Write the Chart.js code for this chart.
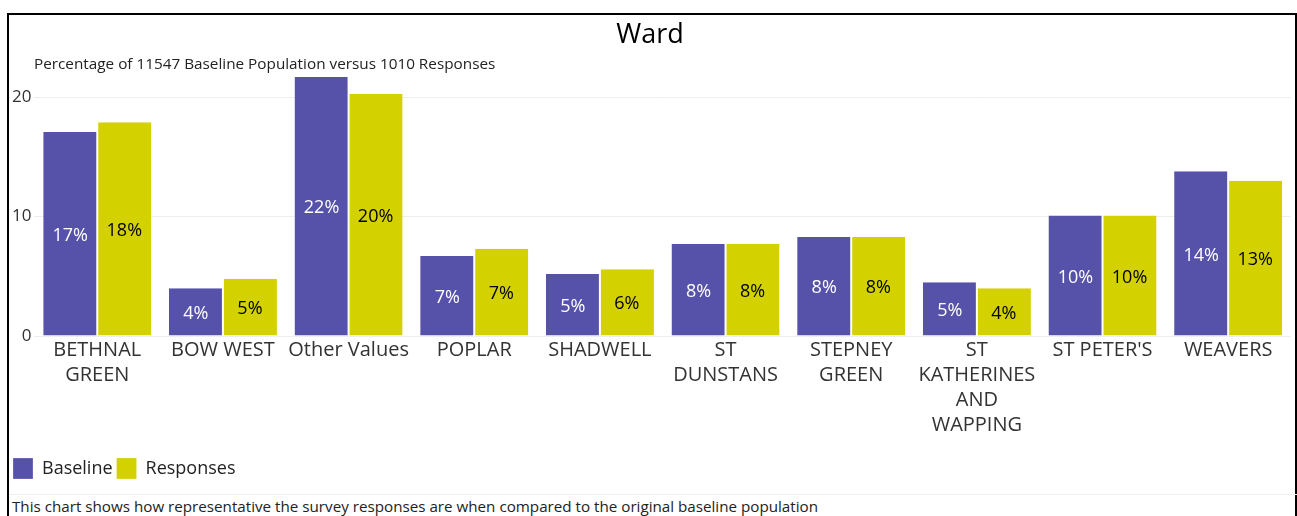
<!DOCTYPE html>
<html>
<head>
<meta charset="utf-8">
<script src="https://cdn.jsdelivr.net/npm/chart.js@4"></script>
<style>
  body { margin: 0; background: #fff; font-family: 'Open Sans', sans-serif; }
  #panel { position: absolute; left: 7px; top: 13px; width: 1286px; height: 520px; border: 2px solid #000; }
  #chartBox { position: absolute; left: 0; top: 0; width: 1286px; height: 474px; }
  #subtitle { position: absolute; left: 25px; top: 38px; font-size: 15.3px; color: #222; }
  #footer { position: absolute; left: 0; top: 479px; width: 1286px; border-top: 1px solid #eee; font-size: 15.2px; color: #222; padding: 1px 0 0 3px; }
</style>
</head>
<body>
<div id="panel">
  <div id="chartBox"><canvas id="wardChart"></canvas></div>
  <div id="subtitle">Percentage of 11547 Baseline Population versus 1010 Responses</div>
  <div id="footer">This chart shows how representative the survey responses are when compared to the original baseline population</div>
</div>
<script>
  'use strict';

  var wards = [
    ['BETHNAL', 'GREEN'], 'BOW WEST', 'Other Values', 'POPLAR', 'SHADWELL',
    ['ST', 'DUNSTANS'], ['STEPNEY', 'GREEN'], ['ST', 'KATHERINES', 'AND', 'WAPPING'], "ST PETER'S", 'WEAVERS'
  ];
  var baseline = [17.1, 4.0, 21.7, 6.7, 5.2, 7.7, 8.3, 4.5, 10.1, 13.8];
  var responses = [17.9, 4.8, 20.3, 7.3, 5.6, 7.7, 8.3, 4.0, 10.1, 13.0];
  var yTicks = [0, 10, 20];

  // percentage label in the middle of every bar
  var barLabels = {
    id: 'barLabels',
    afterDatasetsDraw: function (chart) {
      var ctx = chart.ctx;
      ctx.save();
      ctx.font = '18px "Open Sans"';
      ctx.textAlign = 'center';
      ctx.textBaseline = 'middle';
      chart.data.datasets.forEach(function (ds, i) {
        var meta = chart.getDatasetMeta(i);
        ctx.fillStyle = i === 0 ? '#ffffff' : '#000000';
        meta.data.forEach(function (bar, j) {
          var text = Math.round(ds.data[j]) + '%';
          ctx.fillText(text, bar.x, (bar.y + bar.base) / 2 + 2);
        });
      });
      ctx.restore();
    }
  };

  var ctx = document.getElementById('wardChart').getContext('2d');
  var wardChart = new Chart(ctx, {
    type: 'bar',
    data: {
      labels: wards,
      datasets: [{
        label: 'Baseline',
        data: baseline,
        backgroundColor: '#5752a9',
        borderColor: '#ffffff',
        borderWidth: { left: 0, right: 1, top: 0, bottom: 0 },
        categoryPercentage: 0.86,
        barPercentage: 1.0
      }, {
        label: 'Responses',
        data: responses,
        backgroundColor: '#d4d100',
        borderColor: '#ffffff',
        borderWidth: { left: 1, right: 0, top: 0, bottom: 0 },
        categoryPercentage: 0.86,
        barPercentage: 1.0
      }]
    },
    options: {
      responsive: true,
      maintainAspectRatio: false,
      animation: false,
      layout: { padding: { left: 0, right: 4, top: 0, bottom: 0 } },
      plugins: {
        title: {
          display: true,
          text: 'Ward',
          color: '#000',
          font: { family: 'Open Sans', size: 27, weight: 'normal' },
          padding: { top: 4, bottom: 22 }
        },
        legend: {
          position: 'bottom',
          align: 'start',
          labels: {
            boxWidth: 20,
            boxHeight: 21,
            padding: 4,
            color: '#222',
            font: { family: 'Open Sans', size: 18 }
          }
        },
        tooltip: { enabled: false }
      },
      scales: {
        x: {
          grid: { display: false, drawTicks: false },
          border: { display: false },
          afterFit: function (scale) {
            scale.height += 14;
          },
          ticks: {
            color: '#333',
            padding: 2,
            maxRotation: 0,
            autoSkip: false,
            font: { family: 'Open Sans', size: 20, lineHeight: 1.25 }
          }
        },
        y: {
          min: 0,
          max: 22,
          grid: { color: '#eeeeee', drawTicks: false },
          border: { display: false },
          afterBuildTicks: function (axis) {
            axis.ticks = yTicks.map(function (v) { return { value: v }; });
          },
          ticks: {
            color: '#333',
            padding: 3,
            font: { family: 'Open Sans', size: 17 }
          }
        }
      }
    },
    plugins: [barLabels]
  });
</script>
</body>
</html>
